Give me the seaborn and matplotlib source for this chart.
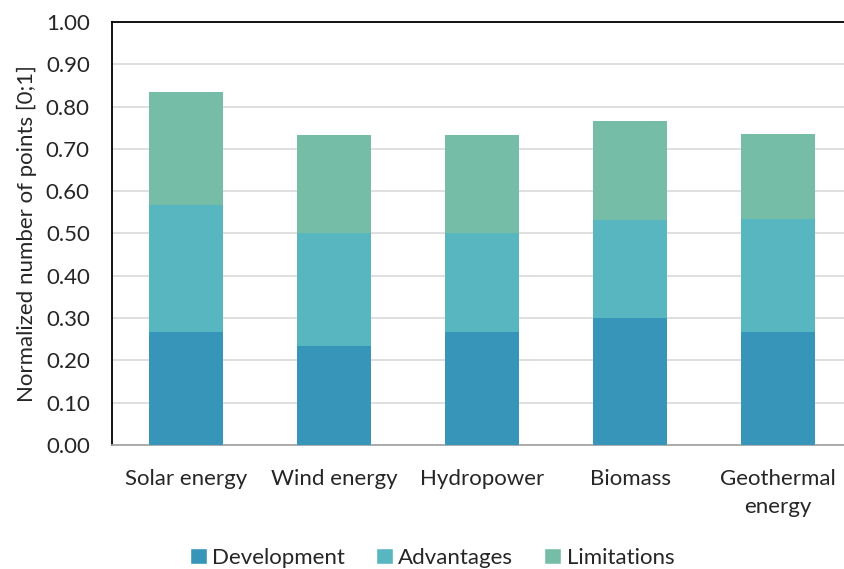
import matplotlib
matplotlib.use("Agg")
import matplotlib.pyplot as plt
from matplotlib.patches import Patch
import seaborn as sns
import pandas as pd

# === Data ===
sources = ["Solar energy", "Wind energy", "Hydropower", "Biomass", "Geothermal\nenergy"]
development = [0.267, 0.233, 0.267, 0.300, 0.267]
advantages = [0.300, 0.267, 0.233, 0.233, 0.267]
limitations = [0.267, 0.233, 0.233, 0.233, 0.200]

series = ["Development", "Advantages", "Limitations"]
colors = ["#3795BA", "#58B6C0", "#75BDA7"]

df = pd.DataFrame({"source": sources, "Development": development,
                   "Advantages": advantages, "Limitations": limitations})
df["lvl1"] = df["Development"]
df["lvl2"] = df["lvl1"] + df["Advantages"]
df["lvl3"] = df["lvl2"] + df["Limitations"]

sns.set_style("white")
plt.rcParams["font.family"] = ["Lato", "DejaVu Sans"]

fig = plt.figure(figsize=(8.44, 5.69), dpi=100)
ax = fig.add_axes([0.1327, 0.218, 0.8768, 0.7434])

# stacked bars: draw cumulative totals, tallest first
for col, c in zip(["lvl3", "lvl2", "lvl1"], colors[::-1]):
    sns.barplot(data=df, x="source", y=col, color=c, saturation=1, width=0.5,
                ax=ax, zorder=3, linewidth=0)

ax.set_ylim(0, 1.0)
ax.set_xlim(-0.5, 4.5)
ax.set_yticks([i / 10 for i in range(11)])
ax.set_yticklabels([f"{i / 10:.2f}" for i in range(11)], fontsize=16)
ax.tick_params(axis="x", labelsize=16, length=0, pad=17)
for t in ax.get_xticklabels():
    t.set_linespacing(1.55)
ax.tick_params(axis="y", length=0, pad=16)
ax.set_xlabel("")
ax.set_ylabel("Normalized number of points [0;1]", fontsize=16, labelpad=6)
ax.yaxis.grid(True, color="#D9D9D9", linewidth=1.2, zorder=0)
ax.set_axisbelow(True)

for s in ["top", "left"]:
    ax.spines[s].set_color("black")
    ax.spines[s].set_linewidth(1.3)
ax.spines["bottom"].set_color("#A6A6A6")
ax.spines["bottom"].set_linewidth(1.3)
ax.spines["right"].set_visible(False)

handles = [Patch(facecolor=c, label=s) for s, c in zip(series, colors)]
fig.legend(handles=handles, loc="lower center", bbox_to_anchor=(0.512, -0.033),
           ncol=3, frameon=False, fontsize=16, handlelength=0.75, handleheight=0.75,
           handletextpad=0.25, columnspacing=1.4)

fig.savefig("out.png", dpi=100)
